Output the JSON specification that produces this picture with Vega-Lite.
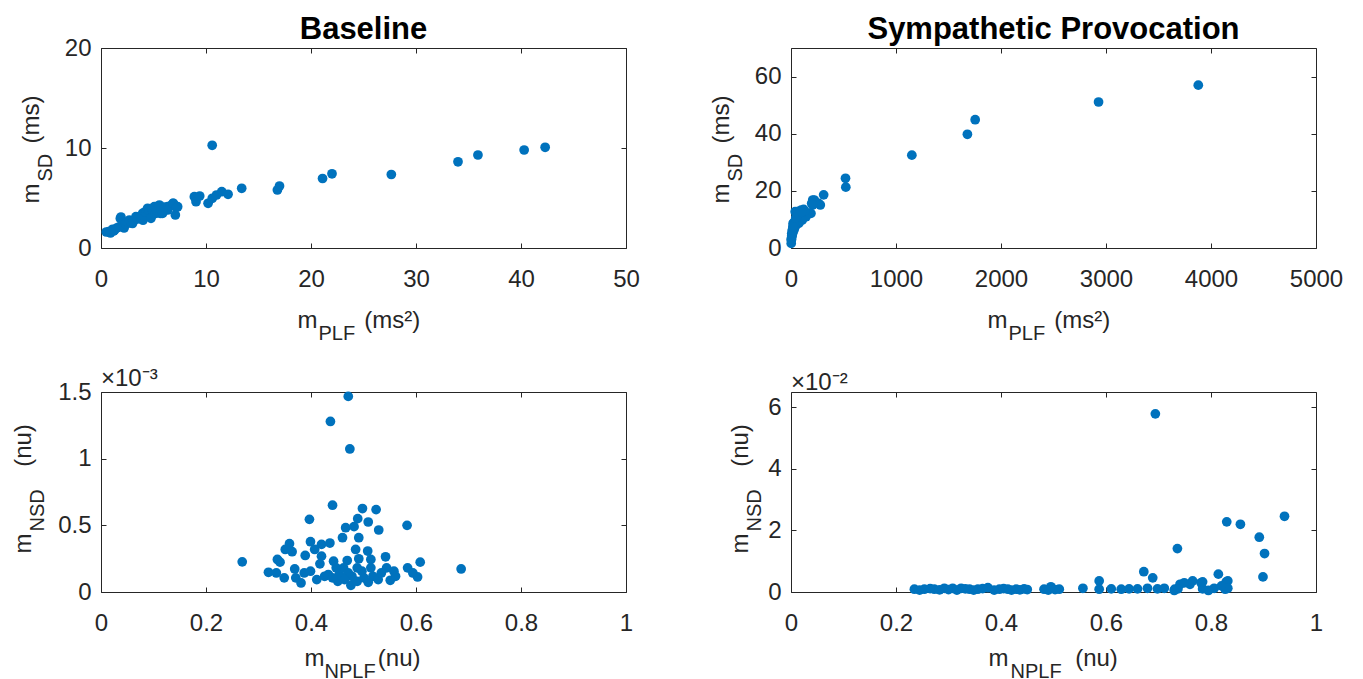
{
  "$schema": "https://vega.github.io/schema/vega-lite/v6.json",
  "padding": {"left": 10, "top": 13, "right": 0, "bottom": 0},
  "datasets": {
    "tl": [
      {"x":0.5,"y":1.6},{"x":0.73,"y":1.63},{"x":0.9,"y":1.5},{"x":1.1,"y":1.87},{"x":1.2,"y":1.7},{"x":1.3,"y":1.8},{"x":1.5,"y":2.0},{"x":1.7,"y":2.1},{"x":1.84,"y":2.95},{"x":1.9,"y":3.1},{"x":2.06,"y":2.47},{"x":2.2,"y":2.0},{"x":2.34,"y":2.45},{"x":2.4,"y":2.4},{"x":2.5,"y":2.6},{"x":2.7,"y":2.8},{"x":2.9,"y":2.5},{"x":3.0,"y":2.45},{"x":3.1,"y":2.7},{"x":3.33,"y":3.13},{"x":3.5,"y":2.9},{"x":3.7,"y":3.1},{"x":3.84,"y":3.12},{"x":3.97,"y":3.47},{"x":4.0,"y":2.78},{"x":4.1,"y":3.2},{"x":4.17,"y":3.6},{"x":4.3,"y":3.6},{"x":4.44,"y":3.97},{"x":4.5,"y":3.8},{"x":4.6,"y":3.7},{"x":4.76,"y":2.97},{"x":4.84,"y":3.86},{"x":4.9,"y":3.9},{"x":5.08,"y":4.13},{"x":5.18,"y":3.45},{"x":5.3,"y":3.8},{"x":5.5,"y":4.2},{"x":5.56,"y":4.3},{"x":5.68,"y":3.45},{"x":5.7,"y":3.9},{"x":5.87,"y":3.47},{"x":6.0,"y":4.1},{"x":6.1,"y":4.0},{"x":6.35,"y":4.13},{"x":6.35,"y":3.8},{"x":6.6,"y":4.2},{"x":6.85,"y":4.46},{"x":6.89,"y":4.47},{"x":7.08,"y":3.3},{"x":7.18,"y":4.06},{"x":7.3,"y":4.13},
      {"x":8.89,"y":5.13},{"x":9.05,"y":4.63},{"x":9.4,"y":5.2},{"x":10.2,"y":4.47},{"x":10.6,"y":4.97},{"x":10.59,"y":10.27},{"x":11.0,"y":5.3},{"x":11.5,"y":5.63},{"x":12.1,"y":5.37},{"x":13.4,"y":5.97},{"x":16.8,"y":5.8},{"x":17.0,"y":6.2},{"x":21.1,"y":6.95},{"x":22.0,"y":7.42},{"x":27.65,"y":7.35},{"x":34.0,"y":8.62},{"x":35.9,"y":9.3},{"x":40.3,"y":9.8},{"x":42.3,"y":10.07}
    ],
    "tr": [
      {"x":3879,"y":57.0},{"x":2929,"y":51.1},{"x":1754,"y":44.9},{"x":1680,"y":39.8},{"x":1151,"y":32.5},{"x":519,"y":24.4},{"x":522,"y":21.3},{"x":311,"y":18.6},{"x":264,"y":15.6},{"x":207,"y":16.8},{"x":197,"y":15.6},{"x":174,"y":12.1},{"x":222,"y":16.8},{"x":279,"y":15.05},{"x":206,"y":15.05},{"x":190,"y":12.1},{"x":121,"y":13.5},{"x":97,"y":13.3},{"x":63,"y":12.7},{"x":40,"y":12.7},{"x":95,"y":11.5},{"x":143,"y":10.96},{"x":107,"y":9.75},{"x":74,"y":8.6},{"x":48,"y":9.8},{"x":40,"y":7.4},{"x":32,"y":7.47},{"x":28,"y":6.3},{"x":20,"y":8.6},{"x":16,"y":5.13},{"x":7,"y":5.05},{"x":3,"y":2.8},{"x":2,"y":1.6},{"x":5,"y":3.5},{"x":10,"y":4.2},{"x":12,"y":6.0},{"x":25,"y":7.0},{"x":35,"y":8.2},{"x":55,"y":9.5},{"x":80,"y":9.8},{"x":60,"y":11.0},{"x":30,"y":9.0},{"x":15,"y":6.5},{"x":8,"y":4.5},{"x":4,"y":3.0},{"x":18,"y":7.5},{"x":45,"y":10.5},{"x":70,"y":12.0},{"x":130,"y":13.0},{"x":100,"y":12.5}
    ],
    "bl": [
      {"x":0.471,"y":0.001467},{"x":0.437,"y":0.001279},{"x":0.474,"y":0.001073},{"x":0.441,"y":0.000651},{"x":0.498,"y":0.000626},{"x":0.524,"y":0.000618},{"x":0.397,"y":0.000545},{"x":0.489,"y":0.00055},{"x":0.509,"y":0.000525},{"x":0.583,"y":0.0005},{"x":0.466,"y":0.000482},{"x":0.482,"y":0.00049},{"x":0.529,"y":0.000465},{"x":0.46,"y":0.000407},{"x":0.491,"y":0.000407},{"x":0.399,"y":0.000377},{"x":0.436,"y":0.000367},{"x":0.42,"y":0.000357},{"x":0.407,"y":0.000319},{"x":0.359,"y":0.000362},{"x":0.351,"y":0.000319},{"x":0.364,"y":0.000302},{"x":0.389,"y":0.000274},{"x":0.42,"y":0.000269},{"x":0.485,"y":0.000319},{"x":0.508,"y":0.000307},{"x":0.542,"y":0.000264},{"x":0.336,"y":0.000244},{"x":0.341,"y":0.000224},{"x":0.269,"y":0.000226},{"x":0.443,"y":0.000231},{"x":0.469,"y":0.000236},{"x":0.491,"y":0.000249},{"x":0.514,"y":0.000244},{"x":0.417,"y":0.000211},{"x":0.608,"y":0.000224},{"x":0.686,"y":0.000173},{"x":0.584,"y":0.000181},{"x":0.594,"y":0.000143},{"x":0.603,"y":0.000113},{"x":0.319,"y":0.000148},{"x":0.334,"y":0.000143},{"x":0.349,"y":0.000106},{"x":0.369,"y":0.000173},{"x":0.371,"y":0.000106},{"x":0.381,"y":0.000068},{"x":0.387,"y":0.000143},{"x":0.399,"y":0.000156},{"x":0.411,"y":0.000093},{"x":0.426,"y":0.000118},{"x":0.433,"y":0.000131},{"x":0.451,"y":0.00008},{"x":0.454,"y":0.000131},{"x":0.462,"y":0.000181},{"x":0.476,"y":0.00005},{"x":0.478,"y":0.000118},{"x":0.488,"y":0.00008},{"x":0.497,"y":0.000156},{"x":0.509,"y":0.000073},{"x":0.518,"y":0.000118},{"x":0.528,"y":0.000093},{"x":0.544,"y":0.000181},{"x":0.551,"y":0.000088},{"x":0.558,"y":0.000156},{"x":0.561,"y":0.000118},{"x":0.448,"y":0.000181},{"x":0.471,"y":0.000143},{"x":0.488,"y":0.000181},{"x":0.441,"y":0.000106},{"x":0.464,"y":0.000093},{"x":0.501,"y":0.000106},{"x":0.534,"y":0.000143},{"x":0.514,"y":0.000181}
    ],
    "br": [
      {"x":0.694,"y":0.0579},{"x":0.94,"y":0.0246},{"x":0.83,"y":0.0228},{"x":0.856,"y":0.022},{"x":0.892,"y":0.0178},{"x":0.902,"y":0.0125},{"x":0.899,"y":0.0049},{"x":0.736,"y":0.0141},{"x":0.672,"y":0.0066},{"x":0.689,"y":0.0046},{"x":0.814,"y":0.0058},{"x":0.829,"y":0.0033},{"x":0.827,"y":0.0009},{"x":0.781,"y":0.003},{"x":0.76,"y":0.0025},{"x":0.741,"y":0.0025},{"x":0.731,"y":0.0009},{"x":0.806,"y":0.0012},
      {"x":0.235,"y":0.0009},{"x":0.254,"y":0.0009},{"x":0.273,"y":0.0009},{"x":0.292,"y":0.0012},{"x":0.308,"y":0.0012},{"x":0.324,"y":0.0012},{"x":0.34,"y":0.0009},{"x":0.356,"y":0.0009},{"x":0.375,"y":0.0014},{"x":0.397,"y":0.0009},{"x":0.413,"y":0.0009},{"x":0.429,"y":0.0009},{"x":0.444,"y":0.001},{"x":0.482,"y":0.0009},{"x":0.495,"y":0.0017},{"x":0.511,"y":0.0009},{"x":0.556,"y":0.0012},{"x":0.587,"y":0.0036},{"x":0.587,"y":0.0009},{"x":0.61,"y":0.001},{"x":0.629,"y":0.0009},{"x":0.644,"y":0.001},{"x":0.66,"y":0.001},{"x":0.679,"y":0.0012},{"x":0.698,"y":0.001},{"x":0.711,"y":0.0012},{"x":0.737,"y":0.001},{"x":0.749,"y":0.003},{"x":0.765,"y":0.0036},{"x":0.784,"y":0.001},{"x":0.784,"y":0.0033},{"x":0.832,"y":0.0036},{"x":0.832,"y":0.0012},
      {"x":0.245,"y":0.0006},{"x":0.265,"y":0.0011},{"x":0.283,"y":0.0007},{"x":0.3,"y":0.0008},{"x":0.316,"y":0.0006},{"x":0.332,"y":0.001},{"x":0.348,"y":0.0006},{"x":0.365,"y":0.0011},{"x":0.387,"y":0.0006},{"x":0.405,"y":0.0011},{"x":0.42,"y":0.0006},{"x":0.436,"y":0.0007},{"x":0.45,"y":0.0008},{"x":0.49,"y":0.0006},{"x":0.503,"y":0.0008},{"x":0.73,"y":0.0005},{"x":0.795,"y":0.0005},{"x":0.82,"y":0.002}
    ]
  },
  "columns": 2,
  "spacing": {"row": 144, "column": 165},
  "bounds": "flush",
  "concat": [
    {
      "width": 525, "height": 200,
      "title": {"text": "Baseline", "fontSize": 31, "fontWeight": "bold", "color": "#000000", "anchor": "middle", "frame": "group", "offset": -34, "baseline": "alphabetic"},
      "resolve": {"axis": {"x": "independent", "y": "independent"}},
      "layer": [
        {
          "data": {"name": "tl"},
          "mark": {"type": "circle", "size": 95, "color": "#0072BD", "opacity": 1},
          "encoding": {
            "x": {"field": "x", "type": "quantitative", "scale": {"domain": [0, 50], "nice": false, "zero": false},
              "axis": {"orient": "bottom", "values": [0, 10, 20, 30, 40, 50], "format": "d", "title": "m\u00a0\u00a0\u00a0\u00a0\u00a0\u00a0\u00a0(ms\u00b2)", "titleX": 196, "titleY": 79, "titleAlign": "left", "titleBaseline": "alphabetic", "titleAngle": 0}},
            "y": {"field": "y", "type": "quantitative", "scale": {"domain": [0, 20], "nice": false, "zero": false},
              "axis": {"orient": "left", "values": [0, 10, 20], "format": "d", "title": "m\u00a0\u00a0\u00a0\u00a0\u00a0\u00a0(ms)", "titleX": -63, "titleY": 155, "titleAngle": -90, "titleAlign": "left", "titleBaseline": "alphabetic"}}
          }
        },
        {
          "data": {"name": "tl"},
          "mark": {"type": "circle", "opacity": 0},
          "encoding": {
            "x": {"field": "x", "type": "quantitative", "scale": {"domain": [0, 50], "nice": false, "zero": false},
              "axis": {"orient": "top", "values": [0, 10, 20, 30, 40, 50], "labels": false, "title": "PLF", "titleFontSize": 20, "titleX": 217, "titleY": 291, "titleAlign": "left", "titleBaseline": "alphabetic", "titleAngle": 0}},
            "y": {"field": "y", "type": "quantitative", "scale": {"domain": [0, 20], "nice": false, "zero": false},
              "axis": {"orient": "right", "values": [0, 10, 20], "labels": false, "title": "SD", "titleFontSize": 20, "titleX": -575, "titleY": 133, "titleAngle": -90, "titleAlign": "left", "titleBaseline": "alphabetic"}}
          }
        }
      ]
    },
    {
      "width": 525, "height": 200,
      "title": {"text": "Sympathetic Provocation", "fontSize": 31, "fontWeight": "bold", "color": "#000000", "anchor": "middle", "frame": "group", "offset": -22, "baseline": "alphabetic"},
      "resolve": {"axis": {"x": "independent", "y": "independent"}},
      "layer": [
        {
          "data": {"name": "tr"},
          "mark": {"type": "circle", "size": 95, "color": "#0072BD", "opacity": 1},
          "encoding": {
            "x": {"field": "x", "type": "quantitative", "scale": {"domain": [0, 5000], "nice": false, "zero": false},
              "axis": {"orient": "bottom", "values": [0, 1000, 2000, 3000, 4000, 5000], "format": "d", "title": "m\u00a0\u00a0\u00a0\u00a0\u00a0\u00a0\u00a0(ms\u00b2)", "titleX": 196, "titleY": 79, "titleAlign": "left", "titleBaseline": "alphabetic", "titleAngle": 0}},
            "y": {"field": "y", "type": "quantitative", "scale": {"domain": [0, 70], "nice": false, "zero": false},
              "axis": {"orient": "left", "values": [0, 20, 40, 60], "format": "d", "title": "m\u00a0\u00a0\u00a0\u00a0\u00a0\u00a0(ms)", "titleX": -63, "titleY": 155, "titleAngle": -90, "titleAlign": "left", "titleBaseline": "alphabetic"}}
          }
        },
        {
          "data": {"name": "tr"},
          "mark": {"type": "circle", "opacity": 0},
          "encoding": {
            "x": {"field": "x", "type": "quantitative", "scale": {"domain": [0, 5000], "nice": false, "zero": false},
              "axis": {"orient": "top", "values": [0, 1000, 2000, 3000, 4000, 5000], "labels": false, "title": "PLF", "titleFontSize": 20, "titleX": 217, "titleY": 291, "titleAlign": "left", "titleBaseline": "alphabetic", "titleAngle": 0}},
            "y": {"field": "y", "type": "quantitative", "scale": {"domain": [0, 70], "nice": false, "zero": false},
              "axis": {"orient": "right", "values": [0, 20, 40, 60], "labels": false, "title": "SD", "titleFontSize": 20, "titleX": -575, "titleY": 133, "titleAngle": -90, "titleAlign": "left", "titleBaseline": "alphabetic"}}
          }
        }
      ]
    },
    {
      "width": 525, "height": 200,
      "title": {"text": "\u00d710\u207b\u00b3", "fontSize": 24, "fontWeight": "normal", "color": "#262626", "anchor": "start", "frame": "group", "offset": -30, "baseline": "alphabetic"},
      "resolve": {"axis": {"x": "independent", "y": "independent"}},
      "layer": [
        {
          "data": {"name": "bl"},
          "mark": {"type": "circle", "size": 95, "color": "#0072BD", "opacity": 1},
          "encoding": {
            "x": {"field": "x", "type": "quantitative", "scale": {"domain": [0, 1], "nice": false, "zero": false},
              "axis": {"orient": "bottom", "values": [0, 0.2, 0.4, 0.6, 0.8, 1], "format": "~g", "title": "m\u00a0\u00a0\u00a0\u00a0\u00a0\u00a0\u00a0\u00a0(nu)", "titleX": 203, "titleY": 73, "titleAlign": "left", "titleBaseline": "alphabetic", "titleAngle": 0}},
            "y": {"field": "y", "type": "quantitative", "scale": {"domain": [0, 0.0015], "nice": false, "zero": false},
              "axis": {"orient": "left", "values": [0, 0.0005, 0.001, 0.0015], "labelExpr": "format(datum.value*1000, '~g')", "title": "m\u00a0\u00a0\u00a0\u00a0\u00a0\u00a0\u00a0\u00a0\u00a0\u00a0(nu)", "titleX": -71, "titleY": 161, "titleAngle": -90, "titleAlign": "left", "titleBaseline": "alphabetic"}}
          }
        },
        {
          "data": {"name": "bl"},
          "mark": {"type": "circle", "opacity": 0},
          "encoding": {
            "x": {"field": "x", "type": "quantitative", "scale": {"domain": [0, 1], "nice": false, "zero": false},
              "axis": {"orient": "top", "values": [0, 0.2, 0.4, 0.6, 0.8, 1], "labels": false, "title": "NPLF", "titleFontSize": 20, "titleX": 223, "titleY": 285, "titleAlign": "left", "titleBaseline": "alphabetic", "titleAngle": 0}},
            "y": {"field": "y", "type": "quantitative", "scale": {"domain": [0, 0.0015], "nice": false, "zero": false},
              "axis": {"orient": "right", "values": [0, 0.0005, 0.001, 0.0015], "labels": false, "title": "NSD", "titleFontSize": 20, "titleX": -583, "titleY": 139, "titleAngle": -90, "titleAlign": "left", "titleBaseline": "alphabetic"}}
          }
        }
      ]
    },
    {
      "width": 525, "height": 200,
      "title": {"text": "\u00d710\u207b\u00b2", "fontSize": 24, "fontWeight": "normal", "color": "#262626", "anchor": "start", "frame": "group", "offset": -22, "baseline": "alphabetic"},
      "resolve": {"axis": {"x": "independent", "y": "independent"}},
      "layer": [
        {
          "data": {"name": "br"},
          "mark": {"type": "circle", "size": 95, "color": "#0072BD", "opacity": 1},
          "encoding": {
            "x": {"field": "x", "type": "quantitative", "scale": {"domain": [0, 1], "nice": false, "zero": false},
              "axis": {"orient": "bottom", "values": [0, 0.2, 0.4, 0.6, 0.8, 1], "format": "~g", "title": "m\u00a0\u00a0\u00a0\u00a0\u00a0\u00a0\u00a0\u00a0\u00a0\u00a0(nu)", "titleX": 197, "titleY": 73, "titleAlign": "left", "titleBaseline": "alphabetic", "titleAngle": 0}},
            "y": {"field": "y", "type": "quantitative", "scale": {"domain": [0, 0.065], "nice": false, "zero": false},
              "axis": {"orient": "left", "values": [0, 0.02, 0.04, 0.06], "labelExpr": "format(datum.value*100, '~g')", "title": "m\u00a0\u00a0\u00a0\u00a0\u00a0\u00a0\u00a0\u00a0\u00a0\u00a0(nu)", "titleX": -44, "titleY": 161, "titleAngle": -90, "titleAlign": "left", "titleBaseline": "alphabetic"}}
          }
        },
        {
          "data": {"name": "br"},
          "mark": {"type": "circle", "opacity": 0},
          "encoding": {
            "x": {"field": "x", "type": "quantitative", "scale": {"domain": [0, 1], "nice": false, "zero": false},
              "axis": {"orient": "top", "values": [0, 0.2, 0.4, 0.6, 0.8, 1], "labels": false, "title": "NPLF", "titleFontSize": 20, "titleX": 219, "titleY": 285, "titleAlign": "left", "titleBaseline": "alphabetic", "titleAngle": 0}},
            "y": {"field": "y", "type": "quantitative", "scale": {"domain": [0, 0.065], "nice": false, "zero": false},
              "axis": {"orient": "right", "values": [0, 0.02, 0.04, 0.06], "labels": false, "title": "NSD", "titleFontSize": 20, "titleX": -556, "titleY": 139, "titleAngle": -90, "titleAlign": "left", "titleBaseline": "alphabetic"}}
          }
        }
      ]
    }
  ],
  "config": {
    "font": "Liberation Sans",
    "view": {"stroke": "#262626", "strokeWidth": 1},
    "axis": {"grid": false, "domain": false, "ticks": true, "tickSize": -5, "tickColor": "#262626", "tickWidth": 1, "labelFontSize": 24, "labelColor": "#262626", "labelFont": "Liberation Sans", "labelFlush": false, "labelOverlap": false, "titleFontSize": 24, "titleColor": "#262626", "titleFontWeight": "normal", "titleFont": "Liberation Sans"},
    "axisX": {"labelPadding": 24},
    "axisY": {"labelPadding": 15}
  }
}
